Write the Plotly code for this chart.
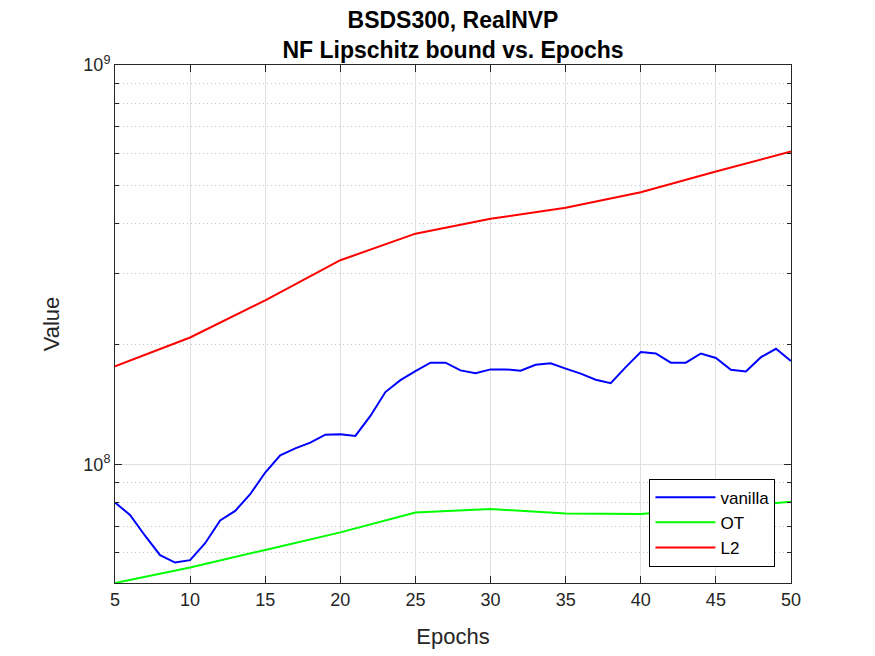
import numpy as np
import plotly.graph_objects as go

epochs = list(range(5, 51))
vanilla = [8.02e7, 7.46e7, 6.62e7, 5.92e7, 5.67e7, 5.75e7, 6.34e7, 7.23e7, 7.64e7, 8.41e7,
           9.53e7, 1.053e8, 1.096e8, 1.133e8, 1.186e8, 1.189e8, 1.177e8, 1.321e8, 1.516e8, 1.624e8,
           1.711e8, 1.796e8, 1.796e8, 1.718e8, 1.691e8, 1.728e8, 1.728e8, 1.714e8, 1.775e8, 1.789e8,
           1.735e8, 1.686e8, 1.628e8, 1.596e8, 1.751e8, 1.909e8, 1.894e8, 1.796e8, 1.796e8, 1.894e8,
           1.845e8, 1.725e8, 1.708e8, 1.854e8, 1.946e8, 1.813e8]

coarse_epochs = [5, 10, 15, 20, 25, 30, 35, 40, 45, 50]
ot = [5.04e7, 5.51e7, 6.10e7, 6.75e7, 7.57e7, 7.72e7, 7.53e7, 7.50e7, 7.76e7, 8.05e7]
l2 = [1.758e8, 2.077e8, 2.574e8, 3.243e8, 3.78e8, 4.12e8, 4.39e8, 4.80e8, 5.41e8, 6.07e8]

font = "Liberation Sans, Arial, sans-serif"
axis_col = "#262626"
grid_col = "#e0e0e0"

# page body has an 8px margin, so the figure is shifted by 8px
W, H = 859, 646

fig = go.Figure()
fig.add_trace(go.Scatter(x=epochs, y=vanilla, mode="lines", name="vanilla",
                         line=dict(color="#0000ff", width=2)))
fig.add_trace(go.Scatter(x=coarse_epochs, y=ot, mode="lines", name="OT",
                         line=dict(color="#00ff00", width=2)))
fig.add_trace(go.Scatter(x=coarse_epochs, y=l2, mode="lines", name="L2",
                         line=dict(color="#ff0000", width=2)))

minor_vals = [m * 10 ** k for k in (7, 8) for m in range(2, 10)]

fig.update_layout(
    width=W, height=H,
    paper_bgcolor="white", plot_bgcolor="white",
    margin=dict(l=107, r=76, t=57, b=71),
    font=dict(family=font, size=18, color=axis_col),
    title=dict(text="<b>BSDS300, RealNVP</b><br><b>NF Lipschitz bound vs. Epochs</b>",
               x=(107 + 676 / 2) / W, xanchor="center", y=1 - 20 / H, yanchor="top",
               font=dict(size=23, color="black", family=font)),
    showlegend=True,
    legend=dict(x=0.977, y=0.0315, xanchor="right", yanchor="bottom",
                bgcolor="white", bordercolor="black", borderwidth=1,
                font=dict(size=17, color="black"), itemwidth=60,
                tracegroupgap=0),
)

fig.update_xaxes(
    range=[5, 50], tickvals=list(range(5, 51, 5)), automargin=False,
    showline=True, linecolor=axis_col, linewidth=1, mirror="ticks",
    ticks="inside", ticklen=7, tickcolor=axis_col,
    showgrid=True, gridcolor=grid_col, zeroline=False,
    title=dict(text="Epochs", font=dict(size=22), standoff=20),
)
fig.update_yaxes(
    type="log", range=[np.log10(5.04e7), 9], automargin=False,
    tickvals=[1e8, 1e9], ticktext=["10<sup>8</sup>", "10<sup>9</sup>"],
    showline=True, linecolor=axis_col, linewidth=1, mirror="ticks",
    ticks="inside", ticklen=7, tickcolor=axis_col,
    showgrid=True, gridcolor=grid_col, zeroline=False,
    minor=dict(tickvals=minor_vals, ticks="inside", ticklen=4, tickcolor=axis_col,
               showgrid=True, gridcolor="#c4c4c4", griddash="1px,3px"),
    title=dict(text="Value", font=dict(size=22), standoff=17),
)

fig.write_html("out.html")
